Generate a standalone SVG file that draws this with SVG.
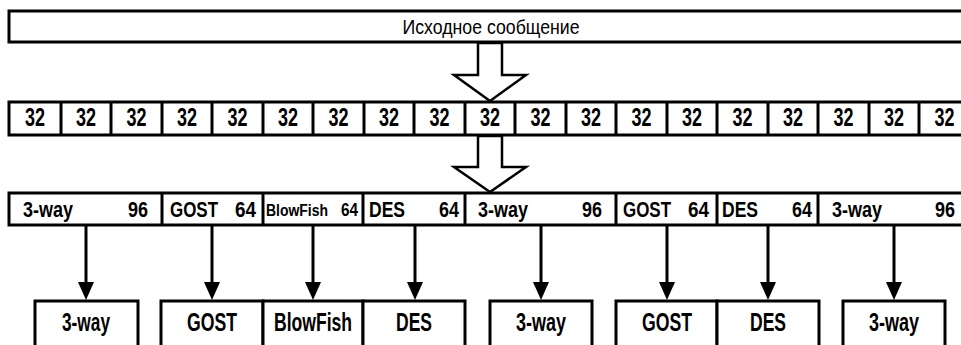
<svg xmlns="http://www.w3.org/2000/svg" width="961" height="345" viewBox="0 0 961 345">
<style>
  .box{fill:#fff;stroke:#000;stroke-width:3}
  .t{font-family:"Liberation Sans",Arial,sans-serif;fill:#000}
  .n32{font-size:25px;font-weight:bold;text-anchor:middle}
  .r3{font-size:22px;font-weight:bold}
  .bot{font-size:25px;font-weight:bold;text-anchor:middle}
  .hollow{fill:#fff;stroke:#000;stroke-width:2.5;stroke-linejoin:miter}
  .arr{stroke:#000;stroke-width:3;fill:none}
</style>
<rect width="961" height="345" fill="#fff"/>

<g id="message">
  <rect class="box" x="9" y="11" width="960" height="31"/>
  <text class="t" x="491" y="34" font-size="20" text-anchor="middle" textLength="177" lengthAdjust="spacingAndGlyphs">Исходное сообщение</text>
</g>

<g id="blocks32">
  <rect class="box" x="9" y="102" width="960" height="33"/>
  <g class="arr">
    <line x1="61" y1="102" x2="61" y2="135"/><line x1="111" y1="102" x2="111" y2="135"/><line x1="162" y1="102" x2="162" y2="135"/>
    <line x1="212" y1="102" x2="212" y2="135"/><line x1="263" y1="102" x2="263" y2="135"/><line x1="313" y1="102" x2="313" y2="135"/>
    <line x1="364" y1="102" x2="364" y2="135"/><line x1="414" y1="102" x2="414" y2="135"/><line x1="465" y1="102" x2="465" y2="135"/>
    <line x1="515" y1="102" x2="515" y2="135"/><line x1="566" y1="102" x2="566" y2="135"/><line x1="616" y1="102" x2="616" y2="135"/>
    <line x1="667" y1="102" x2="667" y2="135"/><line x1="717" y1="102" x2="717" y2="135"/><line x1="768" y1="102" x2="768" y2="135"/>
    <line x1="818" y1="102" x2="818" y2="135"/><line x1="869" y1="102" x2="869" y2="135"/><line x1="919" y1="102" x2="919" y2="135"/>
  </g>
  <g class="t n32">
    <text x="35" y="126" textLength="20" lengthAdjust="spacingAndGlyphs">32</text>
    <text x="86" y="126" textLength="20" lengthAdjust="spacingAndGlyphs">32</text>
    <text x="136.5" y="126" textLength="20" lengthAdjust="spacingAndGlyphs">32</text>
    <text x="187" y="126" textLength="20" lengthAdjust="spacingAndGlyphs">32</text>
    <text x="237.5" y="126" textLength="20" lengthAdjust="spacingAndGlyphs">32</text>
    <text x="288" y="126" textLength="20" lengthAdjust="spacingAndGlyphs">32</text>
    <text x="338.5" y="126" textLength="20" lengthAdjust="spacingAndGlyphs">32</text>
    <text x="389" y="126" textLength="20" lengthAdjust="spacingAndGlyphs">32</text>
    <text x="439.5" y="126" textLength="20" lengthAdjust="spacingAndGlyphs">32</text>
    <text x="490" y="126" textLength="20" lengthAdjust="spacingAndGlyphs">32</text>
    <text x="540.5" y="126" textLength="20" lengthAdjust="spacingAndGlyphs">32</text>
    <text x="591" y="126" textLength="20" lengthAdjust="spacingAndGlyphs">32</text>
    <text x="641.5" y="126" textLength="20" lengthAdjust="spacingAndGlyphs">32</text>
    <text x="692" y="126" textLength="20" lengthAdjust="spacingAndGlyphs">32</text>
    <text x="742.5" y="126" textLength="20" lengthAdjust="spacingAndGlyphs">32</text>
    <text x="793" y="126" textLength="20" lengthAdjust="spacingAndGlyphs">32</text>
    <text x="843.5" y="126" textLength="20" lengthAdjust="spacingAndGlyphs">32</text>
    <text x="894" y="126" textLength="20" lengthAdjust="spacingAndGlyphs">32</text>
    <text x="944.5" y="126" textLength="20" lengthAdjust="spacingAndGlyphs">32</text>
  </g>
</g>

<g id="algorithms">
  <rect class="box" x="9" y="193" width="960" height="32"/>
  <g class="arr">
    <line x1="162" y1="193" x2="162" y2="225"/><line x1="263" y1="193" x2="263" y2="225"/><line x1="363" y1="193" x2="363" y2="225"/>
    <line x1="465" y1="193" x2="465" y2="225"/><line x1="616" y1="193" x2="616" y2="225"/><line x1="717" y1="193" x2="717" y2="225"/>
    <line x1="818" y1="193" x2="818" y2="225"/>
  </g>
  <g class="t r3">
    <text x="23" y="217" textLength="50" lengthAdjust="spacingAndGlyphs">3-way</text>
    <text x="148" y="217" text-anchor="end" textLength="20" lengthAdjust="spacingAndGlyphs">96</text>
    <text x="170" y="217" textLength="48" lengthAdjust="spacingAndGlyphs">GOST</text>
    <text x="256" y="217" text-anchor="end" textLength="21" lengthAdjust="spacingAndGlyphs">64</text>
    <text x="266" y="216" font-size="16" textLength="62" lengthAdjust="spacingAndGlyphs">BlowFish</text>
    <text x="358" y="216" font-size="18" text-anchor="end" textLength="17" lengthAdjust="spacingAndGlyphs">64</text>
    <text x="369" y="217" textLength="36" lengthAdjust="spacingAndGlyphs">DES</text>
    <text x="459" y="217" text-anchor="end" textLength="20" lengthAdjust="spacingAndGlyphs">64</text>
    <text x="478" y="217" textLength="50" lengthAdjust="spacingAndGlyphs">3-way</text>
    <text x="602" y="217" text-anchor="end" textLength="20" lengthAdjust="spacingAndGlyphs">96</text>
    <text x="623" y="217" textLength="48" lengthAdjust="spacingAndGlyphs">GOST</text>
    <text x="709" y="217" text-anchor="end" textLength="21" lengthAdjust="spacingAndGlyphs">64</text>
    <text x="722" y="217" textLength="36" lengthAdjust="spacingAndGlyphs">DES</text>
    <text x="812" y="217" text-anchor="end" textLength="20" lengthAdjust="spacingAndGlyphs">64</text>
    <text x="832" y="217" textLength="50" lengthAdjust="spacingAndGlyphs">3-way</text>
    <text x="955" y="217" text-anchor="end" textLength="20" lengthAdjust="spacingAndGlyphs">96</text>
  </g>
</g>

<g id="b1"><rect class="box" x="35" y="301" width="103" height="60"/><text class="t bot" x="86" y="331" textLength="48" lengthAdjust="spacingAndGlyphs">3-way</text></g>
<g id="b2"><rect class="box" x="161" y="301" width="102" height="60"/><text class="t bot" x="212" y="331" textLength="50" lengthAdjust="spacingAndGlyphs">GOST</text></g>
<g id="b3"><rect class="box" x="263" y="301" width="100" height="60"/><text class="t bot" x="313" y="331" textLength="78" lengthAdjust="spacingAndGlyphs">BlowFish</text></g>
<g id="b4"><rect class="box" x="363" y="301" width="102" height="60"/><text class="t bot" x="414" y="331" textLength="36" lengthAdjust="spacingAndGlyphs">DES</text></g>
<g id="b5"><rect class="box" x="490" y="301" width="102" height="60"/><text class="t bot" x="541" y="331" textLength="50" lengthAdjust="spacingAndGlyphs">3-way</text></g>
<g id="b6"><rect class="box" x="616" y="301" width="101" height="60"/><text class="t bot" x="667" y="331" textLength="50" lengthAdjust="spacingAndGlyphs">GOST</text></g>
<g id="b7"><rect class="box" x="717" y="301" width="102" height="60"/><text class="t bot" x="768" y="331" textLength="36" lengthAdjust="spacingAndGlyphs">DES</text></g>
<g id="b8"><rect class="box" x="843" y="301" width="102" height="60"/><text class="t bot" x="894" y="331" textLength="50" lengthAdjust="spacingAndGlyphs">3-way</text></g>

<g id="connectors">
  <polygon class="hollow" points="478,43 478,75 454,75 490,101 526,75 502,75 502,43"/>
  <polygon class="hollow" points="478,136 478,167 454,167 490,192 526,167 502,167 502,136"/>
  <g class="arr">
    <line x1="86" y1="226" x2="86" y2="284"/>
    <line x1="212" y1="226" x2="212" y2="284"/>
    <line x1="313" y1="226" x2="313" y2="284"/>
    <line x1="415" y1="226" x2="415" y2="284"/>
    <line x1="541" y1="226" x2="541" y2="284"/>
    <line x1="667" y1="226" x2="667" y2="284"/>
    <line x1="768" y1="226" x2="768" y2="284"/>
    <line x1="894" y1="226" x2="894" y2="284"/>
  </g>
  <g fill="#000">
    <polygon points="78,282 94,282 86,300"/>
    <polygon points="204,282 220,282 212,300"/>
    <polygon points="305,282 321,282 313,300"/>
    <polygon points="407,282 423,282 415,300"/>
    <polygon points="533,282 549,282 541,300"/>
    <polygon points="659,282 675,282 667,300"/>
    <polygon points="760,282 776,282 768,300"/>
    <polygon points="886,282 902,282 894,300"/>
  </g>
</g>
</svg>
